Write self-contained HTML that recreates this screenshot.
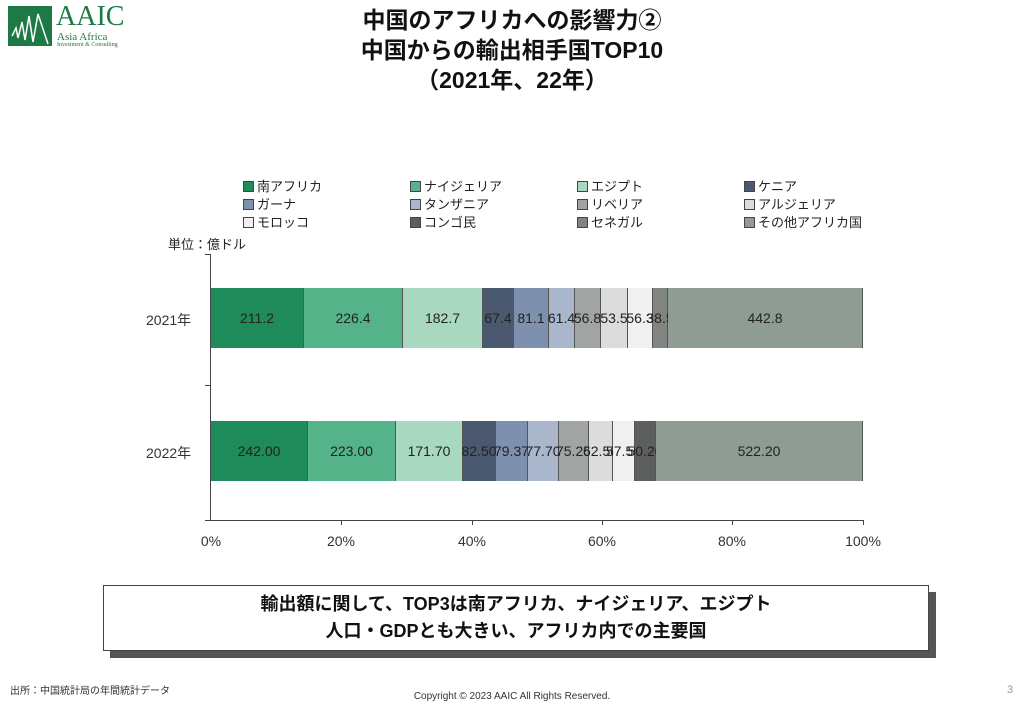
<!DOCTYPE html>
<html><head><meta charset="utf-8"><style>
body{margin:0;width:1024px;height:709px;background:#fff;font-family:"Liberation Sans","Noto Sans CJK JP",sans-serif;position:relative;overflow:hidden}
.a{position:absolute}
.t{left:0;width:1024px;text-align:center;font-weight:bold;font-size:23px;color:#111;line-height:29px}
.seg{position:absolute;height:60px;box-sizing:border-box;border-right:1px solid #555;display:flex;align-items:center;justify-content:center;font-size:14px;color:#222;white-space:nowrap;overflow:visible}
.lg{position:absolute;font-size:13px;color:#222}
.lg i{display:inline-block;width:9px;height:9px;border:1px solid #444;margin-right:3px;vertical-align:-1px}
.xl{position:absolute;top:533px;font-size:14px;color:#333;width:60px;text-align:center}
</style></head><body>
<div class="a" style="left:8px;top:6px;width:44px;height:40px;background:#1e7a45"></div>
<svg class="a" style="left:8px;top:6px" width="44" height="40"><path d="M4 30 L8 22 L10 32 L14 16 L17 34 L21 10 L25 36 L30 8 L40 38" stroke="#fff" stroke-width="1.5" fill="none"/></svg>
<div class="a" style="left:56px;top:2px;font-family:'Liberation Serif',serif;font-size:28px;color:#1e7a45;line-height:30px">AAIC</div>
<div class="a" style="left:57px;top:31px;font-family:'Liberation Serif',serif;font-size:11px;color:#1e7a45">Asia Africa</div>
<div class="a" style="left:57px;top:42px;font-family:'Liberation Serif',serif;font-size:6px;color:#1e7a45">Investment &amp; Consulting</div>
<div class="a t" style="top:6px">中国のアフリカへの影響力②</div>
<div class="a t" style="top:36px">中国からの輸出相手国TOP10</div>
<div class="a t" style="top:66px">（2021年、22年）</div>

<div class="lg" style="left:243px;top:176px"><i style="background:#1f8a5a"></i>南アフリカ</div>
<div class="lg" style="left:410px;top:176px"><i style="background:#55b38a"></i>ナイジェリア</div>
<div class="lg" style="left:577px;top:176px"><i style="background:#a8d8c0"></i>エジプト</div>
<div class="lg" style="left:744px;top:176px"><i style="background:#4a5870"></i>ケニア</div>
<div class="lg" style="left:243px;top:194px"><i style="background:#7d90ad"></i>ガーナ</div>
<div class="lg" style="left:410px;top:194px"><i style="background:#a9b6cc"></i>タンザニア</div>
<div class="lg" style="left:577px;top:194px"><i style="background:#a0a4a2"></i>リベリア</div>
<div class="lg" style="left:744px;top:194px"><i style="background:#dcdcdc"></i>アルジェリア</div>
<div class="lg" style="left:243px;top:212px"><i style="background:#f0f0f0"></i>モロッコ</div>
<div class="lg" style="left:410px;top:212px"><i style="background:#5c5f5e"></i>コンゴ民</div>
<div class="lg" style="left:577px;top:212px"><i style="background:#808582"></i>セネガル</div>
<div class="lg" style="left:744px;top:212px"><i style="background:#8f9c94"></i>その他アフリカ国</div>
<div class="a" style="left:168px;top:234px;font-size:13px;color:#222">単位：億ドル</div>

<div class="a" style="left:210px;top:254px;width:1px;height:266px;background:#444"></div>
<div class="a" style="left:210px;top:520px;width:654px;height:1px;background:#444"></div>
<div class="a" style="left:205px;top:254px;width:6px;height:1px;background:#444"></div>
<div class="a" style="left:205px;top:385px;width:6px;height:1px;background:#444"></div>
<div class="a" style="left:205px;top:520px;width:6px;height:1px;background:#444"></div>
<div class="a" style="left:341px;top:520px;width:1px;height:5px;background:#444"></div>
<div class="a" style="left:472px;top:520px;width:1px;height:5px;background:#444"></div>
<div class="a" style="left:602px;top:520px;width:1px;height:5px;background:#444"></div>
<div class="a" style="left:732px;top:520px;width:1px;height:5px;background:#444"></div>
<div class="a" style="left:863px;top:520px;width:1px;height:5px;background:#444"></div>
<div class="a" style="left:146px;top:310px;font-size:14px;color:#333">2021年</div>
<div class="a" style="left:146px;top:443px;font-size:14px;color:#333">2022年</div>

<div class="a" style="left:211px;top:288px;width:652px;height:60px;border:1px solid #555;box-sizing:border-box"></div>
<div class="seg" style="top:288px;left:211px;width:93px;background:#1f8a5a">211.2</div>
<div class="seg" style="top:288px;left:304px;width:99px;background:#55b38a">226.4</div>
<div class="seg" style="top:288px;left:403px;width:80px;background:#a8d8c0">182.7</div>
<div class="seg" style="top:288px;left:483px;width:31px;background:#4a5870">67.4</div>
<div class="seg" style="top:288px;left:514px;width:35px;background:#7d90ad">81.1</div>
<div class="seg" style="top:288px;left:549px;width:26px;background:#a9b6cc">61.4</div>
<div class="seg" style="top:288px;left:575px;width:26px;background:#a0a4a2">56.8</div>
<div class="seg" style="top:288px;left:601px;width:27px;background:#dcdcdc">53.5</div>
<div class="seg" style="top:288px;left:628px;width:25px;background:#f0f0f0">56.3</div>
<div class="seg" style="top:288px;left:653px;width:15px;background:#808582">38.5</div>
<div class="seg" style="top:288px;left:668px;width:195px;background:#8f9c94">442.8</div>

<div class="seg" style="top:421px;left:211px;width:97px;background:#1f8a5a">242.00</div>
<div class="seg" style="top:421px;left:308px;width:88px;background:#55b38a">223.00</div>
<div class="seg" style="top:421px;left:396px;width:67px;background:#a8d8c0">171.70</div>
<div class="seg" style="top:421px;left:463px;width:33px;background:#4a5870">82.50</div>
<div class="seg" style="top:421px;left:496px;width:32px;background:#7d90ad">79.37</div>
<div class="seg" style="top:421px;left:528px;width:31px;background:#a9b6cc">77.70</div>
<div class="seg" style="top:421px;left:559px;width:30px;background:#a0a4a2">75.25</div>
<div class="seg" style="top:421px;left:589px;width:24px;background:#dcdcdc">62.50</div>
<div class="seg" style="top:421px;left:613px;width:22px;background:#f0f0f0">57.50</div>
<div class="seg" style="top:421px;left:635px;width:21px;background:#5c5f5e">50.20</div>
<div class="seg" style="top:421px;left:656px;width:207px;background:#8f9c94">522.20</div>

<div class="xl" style="left:181px">0%</div>
<div class="xl" style="left:311px">20%</div>
<div class="xl" style="left:442px">40%</div>
<div class="xl" style="left:572px">60%</div>
<div class="xl" style="left:702px">80%</div>
<div class="xl" style="left:833px">100%</div>

<div class="a" style="left:110px;top:592px;width:826px;height:66px;background:#555"></div>
<div class="a" style="left:103px;top:585px;width:826px;height:66px;background:#fff;border:1px solid #444;box-sizing:border-box;text-align:center;font-weight:bold;font-size:18px;line-height:27px;padding-top:5px;color:#111">輸出額に関して、TOP3は南アフリカ、ナイジェリア、エジプト<br>人口・GDPとも大きい、アフリカ内での主要国</div>
<div class="a" style="left:10px;top:682px;font-size:10px;color:#333">出所：中国統計局の年間統計データ</div>
<div class="a" style="left:0;width:1024px;top:691px;text-align:center;font-size:10px;color:#333">Copyright © 2023 AAIC All Rights Reserved.</div>
<div class="a" style="left:1007px;top:684px;font-size:11px;color:#999">3</div>
</body></html>
